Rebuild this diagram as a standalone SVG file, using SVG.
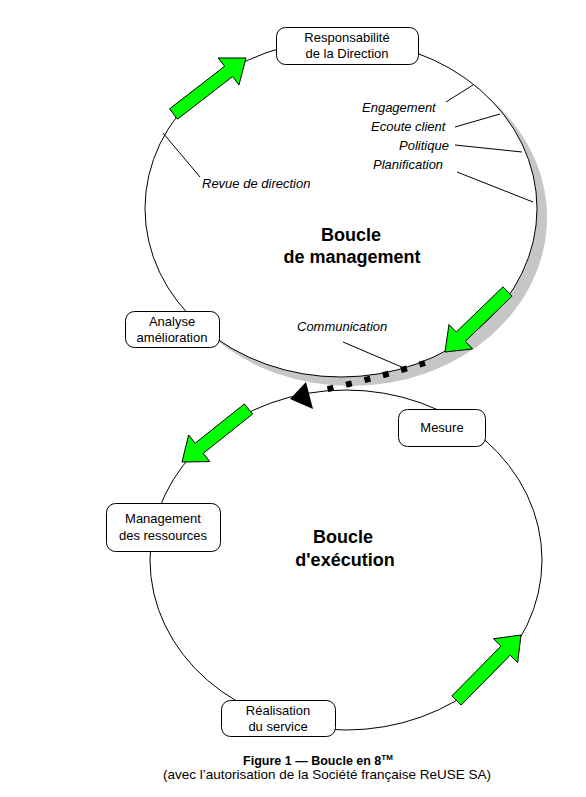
<svg xmlns="http://www.w3.org/2000/svg" width="586" height="797" viewBox="0 0 586 797">
<style>
  text { font-family: "Liberation Sans", Arial, sans-serif; fill: #000; }
  .box { fill: #fff; stroke: #000; stroke-width: 1; }
  .lbl { font-size: 13px; text-anchor: middle; }
  .it { font-size: 13px; font-style: italic; }
  .big { font-size: 18px; font-weight: bold; text-anchor: middle; }
  .loop { fill: #fff; stroke: #000; stroke-width: 1; }
  .lead { stroke: #000; stroke-width: 1; fill: none; }
  .garrow { fill: #00ff00; stroke: #000; stroke-width: 1; stroke-linejoin: miter; }
</style>
<rect width="586" height="797" fill="#fff"/>

<g id="loops">
  <ellipse id="shadow" cx="351" cy="217.5" rx="196" ry="168.5" fill="#c6c6c6"/>
  <ellipse id="loop-management" class="loop" cx="341" cy="208.5" rx="196" ry="168.5"/>
  <ellipse id="loop-execution" class="loop" cx="346" cy="560" rx="196" ry="170"/>
</g>

<g id="connectors">
  <line class="lead" x1="163" y1="133" x2="200" y2="177"/>
  <line class="lead" x1="473" y1="85" x2="446" y2="102"/>
  <line class="lead" x1="500" y1="114" x2="455" y2="127"/>
  <line class="lead" x1="455" y1="145" x2="522" y2="152"/>
  <line class="lead" x1="457" y1="172" x2="533" y2="202"/>
  <line class="lead" x1="343" y1="342" x2="404" y2="368"/>
  <polygon class="garrow" points="177.47,119.14 232.56,76.59 238.98,84.91 246,58 218.2,57.99 224.62,66.31 169.53,108.86"/>
  <polygon class="garrow" points="502.98,286.83 456.28,332.03 448.98,324.49 445,352 472.62,348.91 465.32,341.37 512.02,296.17"/>
  <polygon class="garrow" points="244.45,403.92 195.16,443.21 188.61,434.99 182,462 209.81,461.59 203.26,453.37 252.55,414.08"/>
  <polygon class="garrow" points="461.13,705.06 510.19,655.24 517.67,662.61 521,635 493.45,638.75 500.93,646.12 451.87,695.94"/>
  <path d="M425,363 Q380,377 324,390" fill="none" stroke="#000" stroke-width="6" stroke-dasharray="6 13"/>
  <polygon points="306,382 290,399 313,409" fill="#000"/>
</g>

<g id="node-responsabilite">
  <rect class="box" x="276.5" y="27.5" width="142" height="37" rx="9"/>
  <text class="lbl" x="347" y="42">Responsabilité</text>
  <text class="lbl" x="347" y="58">de la Direction</text>
</g>
<g id="node-analyse">
  <rect class="box" x="125.5" y="311.5" width="94" height="36" rx="9"/>
  <text class="lbl" x="172" y="326">Analyse</text>
  <text class="lbl" x="172" y="342">amélioration</text>
</g>
<g id="node-management">
  <rect class="box" x="106.5" y="503.5" width="114" height="48" rx="9"/>
  <text class="lbl" x="163" y="523">Management</text>
  <text class="lbl" x="163" y="540">des ressources</text>
</g>
<g id="node-mesure">
  <rect class="box" x="398.5" y="409.5" width="87" height="37" rx="9"/>
  <text class="lbl" x="442" y="432">Mesure</text>
</g>
<g id="node-realisation">
  <rect class="box" x="221.5" y="700.5" width="114" height="36" rx="9"/>
  <text class="lbl" x="278" y="715">Réalisation</text>
  <text class="lbl" x="278" y="731">du service</text>
</g>

<g id="labels">
  <text class="it" x="202" y="188">Revue de direction</text>
  <text class="it" x="362" y="112">Engagement</text>
  <text class="it" x="371" y="131">Ecoute client</text>
  <text class="it" x="399" y="150">Politique</text>
  <text class="it" x="373" y="169">Planification</text>
  <text class="it" x="297" y="331">Communication</text>
  <text class="big" x="351" y="241">Boucle</text>
  <text class="big" x="352" y="263">de management</text>
  <text class="big" x="343" y="543">Boucle</text>
  <text class="big" x="345" y="566">d'exécution</text>
</g>

<g id="caption">
  <text x="318" y="765" font-size="12.5" font-weight="bold" text-anchor="middle">Figure 1 — Boucle en 8<tspan font-size="8" dy="-5">TM</tspan></text>
  <text x="327" y="779" font-size="13.5" text-anchor="middle">(avec l’autorisation de la Société française ReUSE SA)</text>
</g>
</svg>
